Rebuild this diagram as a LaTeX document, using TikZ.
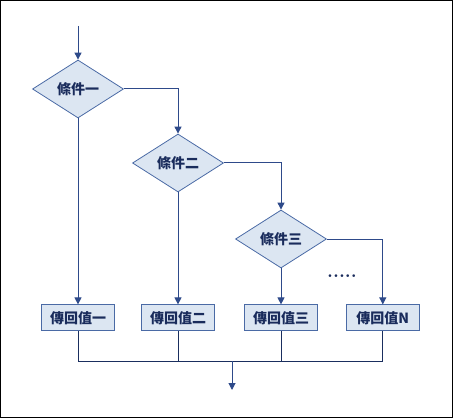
\documentclass[tikz,border=0pt]{standalone}
\usepackage{fontspec}
\newfontfamily\cjk{Noto Sans CJK TC}
\usetikzlibrary{arrows.meta,positioning,shapes.geometric}
\definecolor{boxfill}{HTML}{DCE6F2}
\definecolor{edgeline}{HTML}{4A6AA5}
\definecolor{linkline}{HTML}{2E4A8A}
\definecolor{busline}{HTML}{1A2E5E}
\definecolor{txtnavy}{HTML}{1A2C5C}
\tikzset{
  cond/.style={draw=edgeline, fill=boxfill, diamond, aspect=1.6, minimum width=91pt, minimum height=58pt, inner sep=0pt, font=\cjk\bfseries\fontsize{14}{14}\selectfont, text=txtnavy, line width=0.8pt},
  ret/.style={draw=edgeline, fill=boxfill, rectangle, minimum width=73pt, minimum height=26pt, inner sep=0pt, font=\cjk\bfseries\fontsize{14}{14}\selectfont, text=txtnavy, line width=0.8pt},
  arr/.style={draw=linkline, line width=1pt, -{Triangle[length=7pt, width=7pt]}},
  bus/.style={draw=busline, line width=1pt},
  frame/.style={draw=black, line width=1pt},
}
\begin{document}
\begin{tikzpicture}[x=1pt, y=-1pt]

\useasboundingbox (0,0) rectangle (454,419);
\draw[frame] (0.5,0.5) rectangle (452.5,417.5);

\coordinate (start) at (78,26);
\node[cond] (cond1) at (78,89) {條件一};
\node[cond] (cond2) at (178,163) {條件二};
\node[cond] (cond3) at (281,239) {條件三};

\node[ret, below=186pt of cond1] (ret1) {傳回值一};
\node[ret, below=112pt of cond2] (ret2) {傳回值二};
\node[ret, below=36pt of cond3] (ret3) {傳回值三};
\node[ret, right=28pt of ret3] (retN) {傳回值N};

\node[font=\bfseries\fontsize{19}{19}\selectfont, text=txtnavy, anchor=base, inner sep=0pt] (more) at (342,277) {.....};

\coordinate (join) at (232,361);
\coordinate (out) at (232,390);

\draw[arr] (start) -- (cond1.north);
\draw[arr] (cond1.east) -| (cond2.north);
\draw[arr] (cond2.east) -| (cond3.north);
\draw[arr] (cond3.east) -| (retN.north);
\draw[arr] (cond1) -- (ret1);
\draw[arr] (cond2) -- (ret2);
\draw[arr] (cond3) -- (ret3);

\draw[bus] (ret1.south) |- (retN.south |- join) -- (retN.south);
\draw[bus] (ret2.south) -- (ret2.south |- join);
\draw[bus] (ret3.south) -- (ret3.south |- join);
\draw[arr] (join) -- (out);

\end{tikzpicture}
\end{document}
